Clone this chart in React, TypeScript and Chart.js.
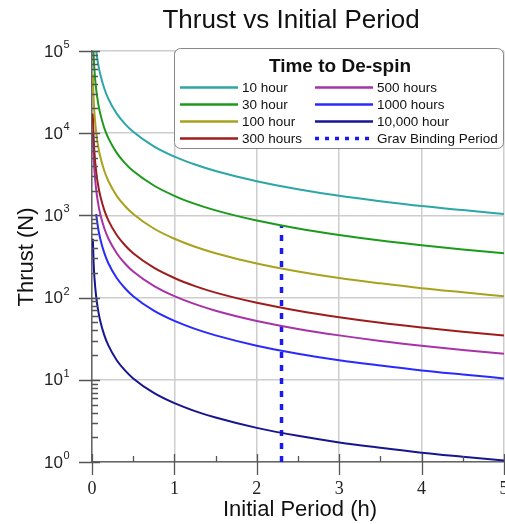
import React, { useEffect, useRef } from "react";
import { Chart, registerables } from "chart.js";

Chart.register(...registerables);

const periods = [0.01, 0.02, 0.03, 0.05, 0.075, 0.1, 0.15, 0.2, 0.3, 0.4, 0.5, 0.75, 1, 1.25, 1.5, 2, 2.5, 3, 3.5, 4, 4.5, 5];

const thrust10h = [520000, 260000, 173000, 104000, 69300, 52000, 34700, 26000, 17300, 13000, 10400, 6930, 5200, 4160, 3470, 2600, 2080, 1730, 1490, 1300, 1160, 1040];
const thrust30h = [173000, 86500, 57700, 34600, 23100, 17300, 11500, 8650, 5770, 4330, 3460, 2310, 1730, 1380, 1150, 865, 692, 577, 494, 433, 384, 346];
const thrust100h = [52000, 26000, 17300, 10400, 6930, 5200, 3470, 2600, 1730, 1300, 1040, 693, 520, 416, 347, 260, 208, 173, 149, 130, 116, 104];
const thrust300h = [17300, 8650, 5770, 3460, 2310, 1730, 1150, 865, 577, 433, 346, 231, 173, 138, 115, 86.5, 69.2, 57.7, 49.4, 43.3, 38.4, 34.6];
const thrust500h = [10400, 5200, 3470, 2080, 1390, 1040, 693, 520, 347, 260, 208, 139, 104, 83.2, 69.3, 52, 41.6, 34.7, 29.7, 26, 23.1, 20.8];
const thrust1000h = [null, null, null, 1040, 693, 520, 347, 260, 173, 130, 104, 69.3, 52, 41.6, 34.7, 26, 20.8, 17.3, 14.9, 13, 11.6, 10.4];
const thrust10000h = [520, 260, 173, 104, 69.3, 52, 34.7, 26, 17.3, 13, 10.4, 6.93, 5.2, 4.16, 3.47, 2.6, 2.08, 1.73, 1.49, 1.3, 1.16, 1.04];

const gravX = [2.3, 2.3];
const gravY = [1, 750];

const seriesLabels = ["10 hour", "30 hour", "100 hour", "300 hours", "500 hours", "1000 hours", "10,000 hour", "Grav Binding Period"];
const seriesColors = ["#2ca6a6", "#1c9a1c", "#a8a21e", "#a01c1c", "#a832a8", "#2a2aff", "#16168e", "#1a1aee"];

const xTicks = [0, 1, 2, 3, 4, 5];
const yTicks = [1, 10, 100, 1000, 10000, 100000];
const yExp = ["0", "1", "2", "3", "4", "5"];

const titleText = "Thrust vs Initial Period";
const xTitle = "Initial Period (h)";
const yTitle = "Thrust (N)";
const legendTitle = "Time to De-spin";

function toPoints(xs: number[], ys: (number | null)[]) {
  const pts: { x: number; y: number }[] = [];
  xs.forEach((x, i) => {
    const y = ys[i];
    if (y !== null && y !== undefined) pts.push({ x, y });
  });
  return pts;
}

const overlayPlugin = {
  id: "overlay",
  afterDraw(chart: any) {
    const ctx = chart.ctx;
    const xs = chart.scales.x;
    const ys = chart.scales.y;
    const area = chart.chartArea;
    ctx.save();

    // tick marks
    ctx.strokeStyle = "#555";
    ctx.lineWidth = 1.3;
    ctx.beginPath();
    xTicks.forEach((v) => {
      const px = Math.round(xs.getPixelForValue(v)) + 0.5;
      ctx.moveTo(px, area.bottom - 8);
      ctx.lineTo(px, area.bottom + 13);
    });
    for (let v = 0.5; v < 5; v += 1) {
      const px = Math.round(xs.getPixelForValue(v)) + 0.5;
      ctx.moveTo(px, area.bottom - 6);
      ctx.lineTo(px, area.bottom);
    }
    yTicks.forEach((v) => {
      const py = Math.round(ys.getPixelForValue(v)) + 0.5;
      ctx.moveTo(area.left - 13, py);
      ctx.lineTo(area.left + 8, py);
    });
    for (let d = 1; d < 100000; d *= 10) {
      for (let m = 2; m <= 9; m++) {
        const py = Math.round(ys.getPixelForValue(d * m)) + 0.5;
        ctx.moveTo(area.left, py);
        ctx.lineTo(area.left + 6, py);
      }
    }
    ctx.stroke();

    // x tick labels
    ctx.fillStyle = "#222";
    ctx.font = "18px 'Liberation Serif', serif";
    ctx.textAlign = "center";
    ctx.textBaseline = "alphabetic";
    xTicks.forEach((v) => {
      ctx.fillText(String(v), xs.getPixelForValue(v), area.bottom + 32);
    });

    // y tick labels
    yTicks.forEach((v, i) => {
      const py = ys.getPixelForValue(v);
      ctx.font = "17px 'Liberation Sans', Arial, sans-serif";
      ctx.textAlign = "right";
      ctx.textBaseline = "middle";
      ctx.fillText("10", area.left - 29, py + 1);
      ctx.font = "11px 'Liberation Sans', Arial, sans-serif";
      ctx.textAlign = "left";
      ctx.fillText(yExp[i], area.left - 28.5, py - 6);
    });

    // titles
    ctx.fillStyle = "#111";
    ctx.font = "26px 'Liberation Sans', Arial, sans-serif";
    ctx.textAlign = "center";
    ctx.textBaseline = "alphabetic";
    ctx.fillText(titleText, 291, 28);

    ctx.font = "22px 'Liberation Sans', Arial, sans-serif";
    ctx.fillText(xTitle, 300, 516);

    ctx.save();
    ctx.translate(33, 257);
    ctx.rotate(-Math.PI / 2);
    ctx.fillText(yTitle, 0, 0);
    ctx.restore();

    // legend box
    const bx = 174.5, by = 48.5, bw = 329, bh = 100, r = 6;
    ctx.beginPath();
    ctx.moveTo(bx + r, by);
    ctx.lineTo(bx + bw - r, by);
    ctx.arcTo(bx + bw, by, bx + bw, by + r, r);
    ctx.lineTo(bx + bw, by + bh - r);
    ctx.arcTo(bx + bw, by + bh, bx + bw - r, by + bh, r);
    ctx.lineTo(bx + r, by + bh);
    ctx.arcTo(bx, by + bh, bx, by + bh - r, r);
    ctx.lineTo(bx, by + r);
    ctx.arcTo(bx, by, bx + r, by, r);
    ctx.closePath();
    ctx.fillStyle = "#fff";
    ctx.fill();
    ctx.strokeStyle = "#888";
    ctx.lineWidth = 1;
    ctx.stroke();

    ctx.fillStyle = "#111";
    ctx.font = "bold 19px 'Liberation Sans', Arial, sans-serif";
    ctx.textAlign = "center";
    ctx.fillText(legendTitle, 340, 72);

    const rowsY = [87, 104, 121, 138];
    ctx.font = "13.5px 'Liberation Sans', Arial, sans-serif";
    ctx.textAlign = "left";
    ctx.textBaseline = "middle";
    seriesLabels.forEach((lab, i) => {
      const col = i < 4 ? 0 : 1;
      const row = i % 4;
      const x0 = col === 0 ? 180 : 315;
      const y = rowsY[row] + 0.5;
      ctx.strokeStyle = seriesColors[i];
      if (i === 7) {
        ctx.lineWidth = 3.5;
        ctx.setLineDash([4, 6]);
      } else {
        ctx.lineWidth = 2.5;
        ctx.setLineDash([]);
      }
      ctx.beginPath();
      ctx.moveTo(x0, y);
      ctx.lineTo(x0 + 58, y);
      ctx.stroke();
      ctx.setLineDash([]);
      ctx.fillStyle = "#111";
      ctx.fillText(lab, x0 + 62, rowsY[row] + 1);
    });

    ctx.restore();
  },
};

export default function App() {
  const canvasRef = useRef<HTMLCanvasElement | null>(null);

  useEffect(() => {
    document.body.style.margin = "0";
    const canvas = canvasRef.current;
    if (!canvas) return;
    const curveData = [thrust10h, thrust30h, thrust100h, thrust300h, thrust500h, thrust1000h, thrust10000h];
    const datasets: any[] = curveData.map((ys, i) => ({
      label: seriesLabels[i],
      data: toPoints(periods, ys),
      borderColor: seriesColors[i],
      backgroundColor: seriesColors[i],
      borderWidth: 2,
      pointRadius: 0,
      cubicInterpolationMode: "monotone",
      fill: false,
    }));
    datasets.push({
      label: seriesLabels[7],
      data: toPoints(gravX, gravY),
      borderColor: seriesColors[7],
      backgroundColor: seriesColors[7],
      borderWidth: 3.5,
      borderDash: [6, 7],
      pointRadius: 0,
      fill: false,
    });

    const chart = new Chart(canvas, {
      type: "line",
      data: { datasets },
      options: {
        animation: false,
        responsive: false,
        maintainAspectRatio: false,
        layout: { padding: { top: 51, right: 1, left: 0, bottom: 0 } },
        plugins: {
          legend: { display: false },
          title: { display: false },
          tooltip: { enabled: false },
        },
        scales: {
          x: {
            type: "linear",
            min: 0,
            max: 5,
            ticks: { display: false, stepSize: 1 },
            grid: { color: "#cdcdcd", lineWidth: 1.5, drawTicks: false },
            border: { display: true, color: "#666", width: 1.5 },
            afterFit: (scale: any) => {
              scale.height = 62;
            },
          },
          y: {
            type: "logarithmic",
            min: 1,
            max: 100000,
            afterBuildTicks: (scale: any) => {
              scale.ticks = yTicks.map((v) => ({ value: v }));
            },
            ticks: { display: false },
            grid: { color: "#cdcdcd", lineWidth: 1.5, drawTicks: false },
            border: { display: true, color: "#666", width: 1.5 },
            afterFit: (scale: any) => {
              scale.width = 92;
            },
          },
        },
      },
      plugins: [overlayPlugin],
    } as any);

    return () => {
      chart.destroy();
    };
  }, []);

  return (
    <div style={{ width: 505, height: 524 }}>
      <canvas ref={canvasRef} width={505} height={524} style={{ display: "block" }} />
    </div>
  );
}
